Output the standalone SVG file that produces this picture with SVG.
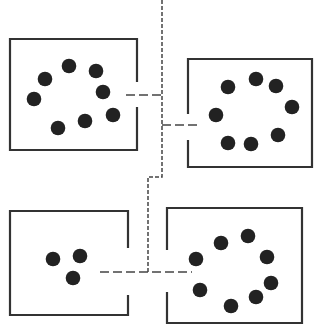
<svg xmlns="http://www.w3.org/2000/svg" width="333" height="325" viewBox="0 0 333 325">
<style>
.box{fill:none;stroke:#333;stroke-width:2.2}
.dot{fill:#222}
.dash{fill:none;stroke:#444;stroke-width:1.5;stroke-dasharray:4 2}
.hdash{fill:none;stroke:#444;stroke-width:1.5;stroke-dasharray:9 4}
</style>
<rect width="333" height="325" fill="#fff"/>
<g id="connectors">
<path class="dash" d="M162 0 V177 H148 V272"/>
<path class="hdash" d="M126 95 H162"/>
<path class="hdash" d="M162 125 H201"/>
<path class="hdash" d="M100 272 H192"/>
</g>
<g id="box1">
<path class="box" d="M137 82 V39 H10 V150 H137 V107"/>
<circle class="dot" cx="69" cy="66" r="7.3"/>
<circle class="dot" cx="45" cy="79" r="7.3"/>
<circle class="dot" cx="96" cy="71" r="7.3"/>
<circle class="dot" cx="34" cy="99" r="7.3"/>
<circle class="dot" cx="103" cy="92" r="7.3"/>
<circle class="dot" cx="113" cy="115" r="7.3"/>
<circle class="dot" cx="85" cy="121" r="7.3"/>
<circle class="dot" cx="58" cy="128" r="7.3"/>
</g>
<g id="box2">
<path class="box" d="M188 114 V59 H312 V167 H188 V140"/>
<circle class="dot" cx="228" cy="87" r="7.3"/>
<circle class="dot" cx="256" cy="79" r="7.3"/>
<circle class="dot" cx="276" cy="86" r="7.3"/>
<circle class="dot" cx="292" cy="107" r="7.3"/>
<circle class="dot" cx="216" cy="115" r="7.3"/>
<circle class="dot" cx="278" cy="135" r="7.3"/>
<circle class="dot" cx="228" cy="143" r="7.3"/>
<circle class="dot" cx="251" cy="144" r="7.3"/>
</g>
<g id="box3">
<path class="box" d="M128 248 V211 H10 V315 H128 V295"/>
<circle class="dot" cx="53" cy="259" r="7.3"/>
<circle class="dot" cx="80" cy="256" r="7.3"/>
<circle class="dot" cx="73" cy="278" r="7.3"/>
</g>
<g id="box4">
<path class="box" d="M167 250 V208 H302 V323 H167 V292"/>
<circle class="dot" cx="221" cy="243" r="7.3"/>
<circle class="dot" cx="248" cy="236" r="7.3"/>
<circle class="dot" cx="267" cy="257" r="7.3"/>
<circle class="dot" cx="196" cy="259" r="7.3"/>
<circle class="dot" cx="271" cy="283" r="7.3"/>
<circle class="dot" cx="200" cy="290" r="7.3"/>
<circle class="dot" cx="256" cy="297" r="7.3"/>
<circle class="dot" cx="231" cy="306" r="7.3"/>
</g>
</svg>
